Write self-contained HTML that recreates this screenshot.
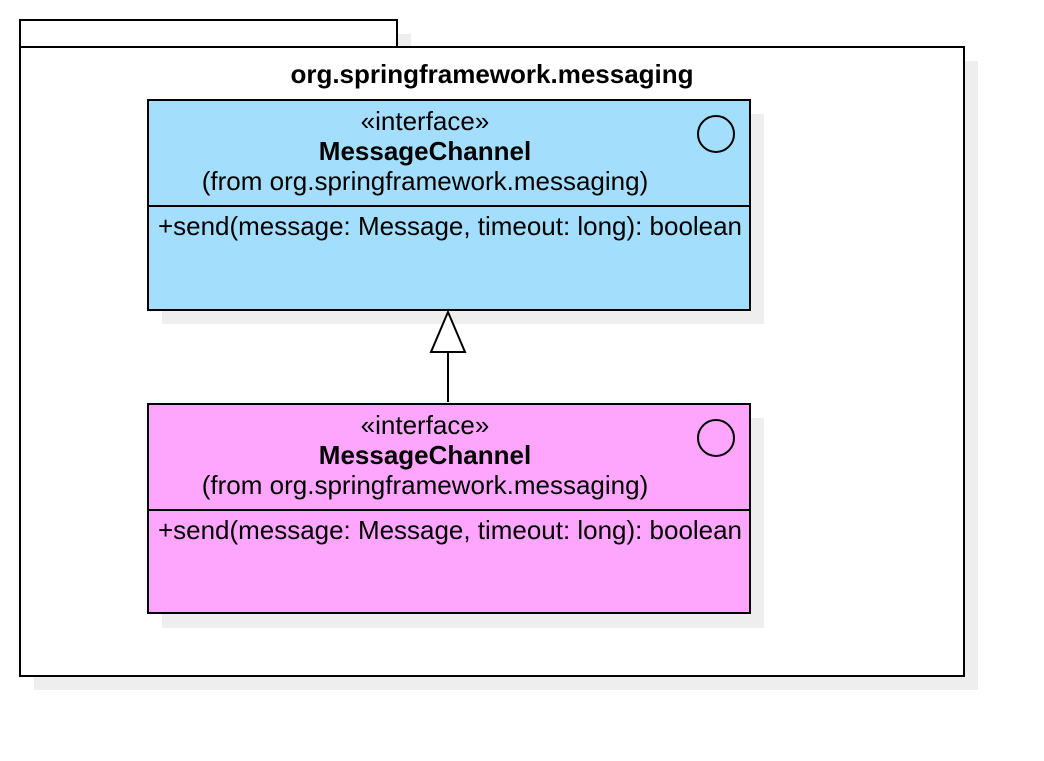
<!DOCTYPE html>
<html><head><meta charset="utf-8"><style>
body{margin:0;background:#fff;}
svg text{font-family:"Liberation Sans",sans-serif;fill:#000;}
</style></head><body>
<svg width="1044" height="756" xmlns="http://www.w3.org/2000/svg">
<rect x="34" y="61" width="944" height="629" fill="#eeeeee"/>
<rect x="397" y="34" width="14" height="14" fill="#eeeeee"/>
<rect x="20" y="20" width="377" height="27" fill="#fff" stroke="#000" stroke-width="2"/>
<rect x="20" y="47" width="944" height="629" fill="#fff" stroke="#000" stroke-width="2"/>
<text x="492" y="83" font-size="26" font-weight="bold" text-anchor="middle">org.springframework.messaging</text>

<rect x="162" y="114" width="602" height="210" fill="#eeeeee"/>
<rect x="148" y="100" width="602" height="210" fill="#a3dffd" stroke="#000" stroke-width="2"/>
<line x1="148" y1="206" x2="750" y2="206" stroke="#000" stroke-width="2"/>
<circle cx="716" cy="134" r="18" fill="none" stroke="#000" stroke-width="2"/>
<text x="425" y="130" font-size="26" text-anchor="middle">«interface»</text>
<text x="425" y="160" font-size="26" font-weight="bold" text-anchor="middle">MessageChannel</text>
<text x="425" y="190" font-size="26" text-anchor="middle">(from org.springframework.messaging)</text>
<text x="158" y="235" font-size="26" textLength="584" lengthAdjust="spacingAndGlyphs">+send(message: Message, timeout: long): boolean</text>

<rect x="162" y="418" width="602" height="210" fill="#eeeeee"/>
<rect x="148" y="404" width="602" height="209" fill="#fea6fe" stroke="#000" stroke-width="2"/>
<line x1="148" y1="510" x2="750" y2="510" stroke="#000" stroke-width="2"/>
<circle cx="716" cy="438" r="18" fill="none" stroke="#000" stroke-width="2"/>
<text x="425" y="434" font-size="26" text-anchor="middle">«interface»</text>
<text x="425" y="464" font-size="26" font-weight="bold" text-anchor="middle">MessageChannel</text>
<text x="425" y="494" font-size="26" text-anchor="middle">(from org.springframework.messaging)</text>
<text x="158" y="539" font-size="26" textLength="584" lengthAdjust="spacingAndGlyphs">+send(message: Message, timeout: long): boolean</text>

<line x1="448" y1="352" x2="448" y2="402" stroke="#000" stroke-width="2"/>
<polygon points="448,312 431,352 465,352" fill="#fff" stroke="#000" stroke-width="2"/>
</svg>
</body></html>
